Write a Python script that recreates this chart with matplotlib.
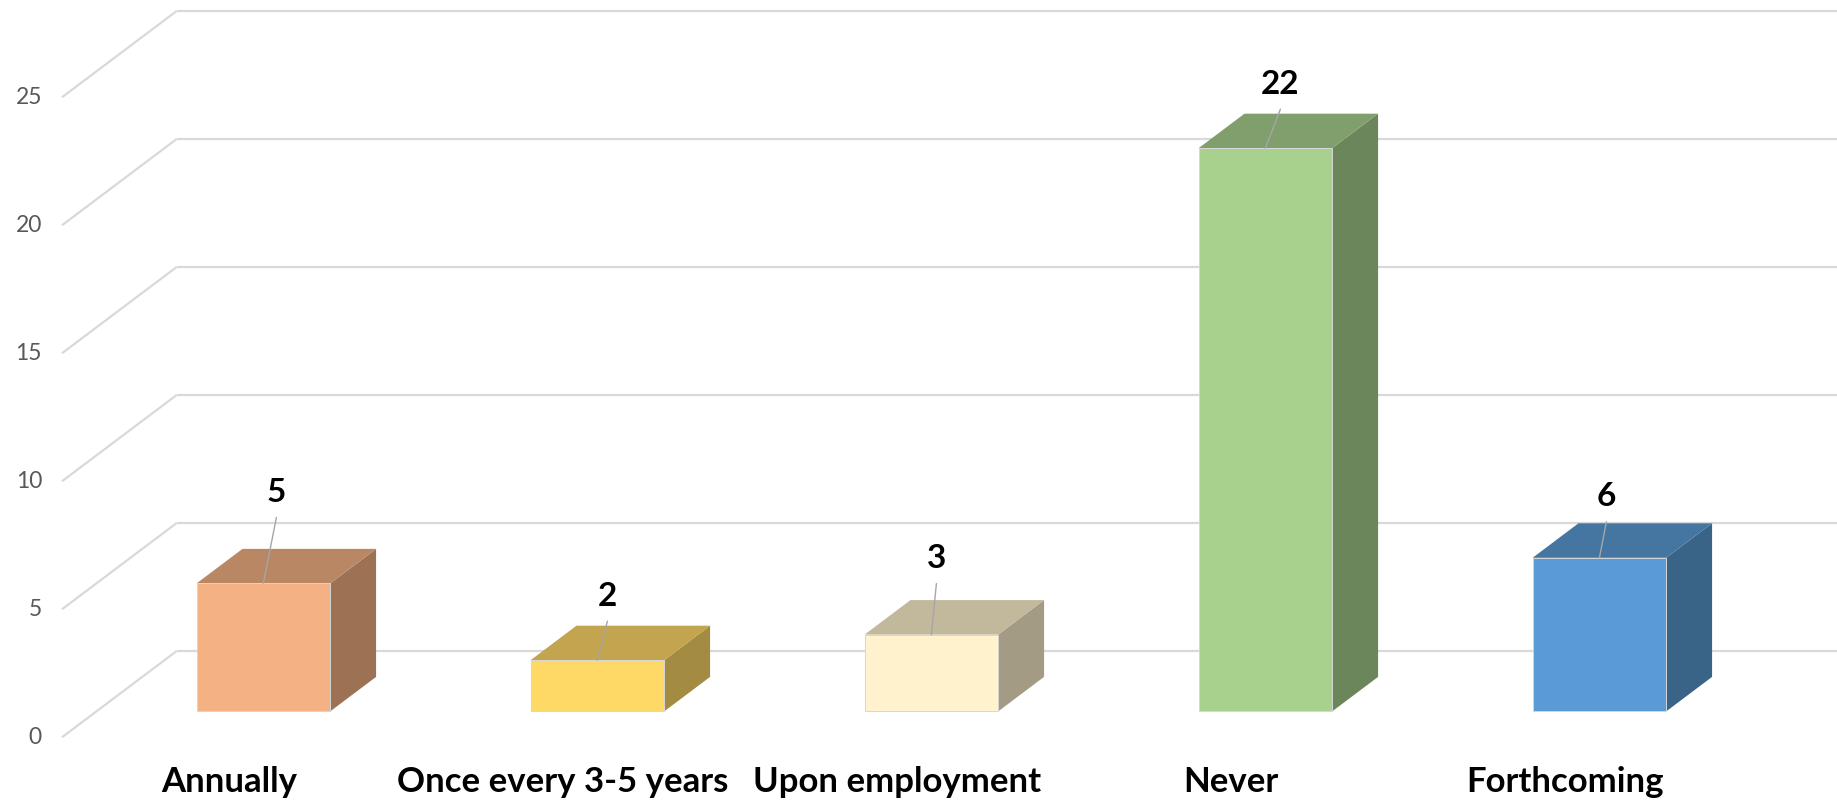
import matplotlib
matplotlib.use('Agg')
import matplotlib.pyplot as plt
from matplotlib.patches import Polygon
from matplotlib.colors import to_rgb

# ---- data ----
categories = ['Annually', 'Once every 3-5 years', 'Upon employment', 'Never', 'Forthcoming']
values = [5, 2, 3, 22, 6]
y_ticks = [0, 5, 10, 15, 20, 25]
y_tick_labels = ['0', '5', '10', '15', '20', '25']

# ---- style ----
front_colors = ['#F4B183', '#FFD966', '#FFF2CC', '#A9D18E', '#5B9BD5']
label_offsets = [(13, 91), (10, 64), (5, 76), (15, 64), (7, 61)]  # pixel offsets of value labels
TOP_SHADE, SIDE_SHADE = 0.76, 0.64
grid_color = '#D9D9D9'
leader_color = '#A6A6A6'

W, H, DPI = 1837, 805, 100
fig = plt.figure(figsize=(W / DPI, H / DPI), dpi=DPI)
ax = fig.add_axes([0, 0, 1, 1])
ax.set_axis_off()
ax.set_xlim(-0.6856, 4.8144)
ax.set_ylim(-2.645, 28.80)

DX, DY = 0.3434, 3.371      # projection of full floor depth
WALL_X = -0.5
BAR_W = 0.4
D0, D1 = 0.3, 0.7

def shade(c, f):
    r, g, b = to_rgb(c)
    return (r * f, g * f, b * f)

# walls / gridlines
xmax = ax.get_xlim()[1]
for v, lab in zip(y_ticks, y_tick_labels):
    ax.plot([WALL_X, WALL_X + DX], [v, v + DY], color=grid_color, lw=1.6,
            solid_capstyle='butt', zorder=1)
    ax.plot([WALL_X + DX, xmax + 0.1], [v + DY, v + DY], color=grid_color, lw=1.6,
            solid_capstyle='butt', zorder=1)
    ax.annotate(lab, xy=(WALL_X, v), xytext=(-20, 0), textcoords='offset pixels',
                ha='right', va='center', fontsize=16.5, color='#595959',
                family=['Lato', 'DejaVu Sans'])

# bars
ddx, ddy = (D1 - D0) * DX, (D1 - D0) * DY
for i, (v, c) in enumerate(zip(values, front_colors)):
    x0 = i - BAR_W / 2 + D0 * DX
    x1 = i + BAR_W / 2 + D0 * DX
    yb = D0 * DY
    yt = v + D0 * DY
    front = [(x0, yb), (x1, yb), (x1, yt), (x0, yt)]
    top = [(x0, yt), (x1, yt), (x1 + ddx, yt + ddy), (x0 + ddx, yt + ddy)]
    side = [(x1, yb), (x1 + ddx, yb + ddy), (x1 + ddx, yt + ddy), (x1, yt)]
    ax.add_patch(Polygon(side, closed=True, facecolor=shade(c, SIDE_SHADE),
                         edgecolor='none', zorder=3))
    ax.add_patch(Polygon(top, closed=True, facecolor=shade(c, TOP_SHADE),
                         edgecolor='none', zorder=3))
    ax.add_patch(Polygon(front, closed=True, facecolor=c, edgecolor='#D6D6D6',
                         lw=0.7, zorder=4))

    # value label + leader line
    anchor = (i + D0 * DX, yt)
    odx, ody = label_offsets[i]
    ax.annotate('', xy=anchor, xytext=(odx, ody - 25), textcoords='offset pixels',
                arrowprops=dict(arrowstyle='-', color=leader_color, lw=1.0,
                                shrinkA=0, shrinkB=0), zorder=5)
    ax.annotate(str(v), xy=anchor, xytext=(odx, ody), textcoords='offset pixels',
                ha='center', va='center', fontsize=24, fontweight='bold',
                color='black', family=['Lato', 'DejaVu Sans'], zorder=6)

# category labels
for i, name in enumerate(categories):
    ax.annotate(name, xy=(i, 0), xytext=(0, -45), textcoords='offset pixels',
                ha='center', va='center', fontsize=25, fontweight='bold',
                color='black', family=['Lato', 'DejaVu Sans'])

fig.savefig('out.png', dpi=DPI)
